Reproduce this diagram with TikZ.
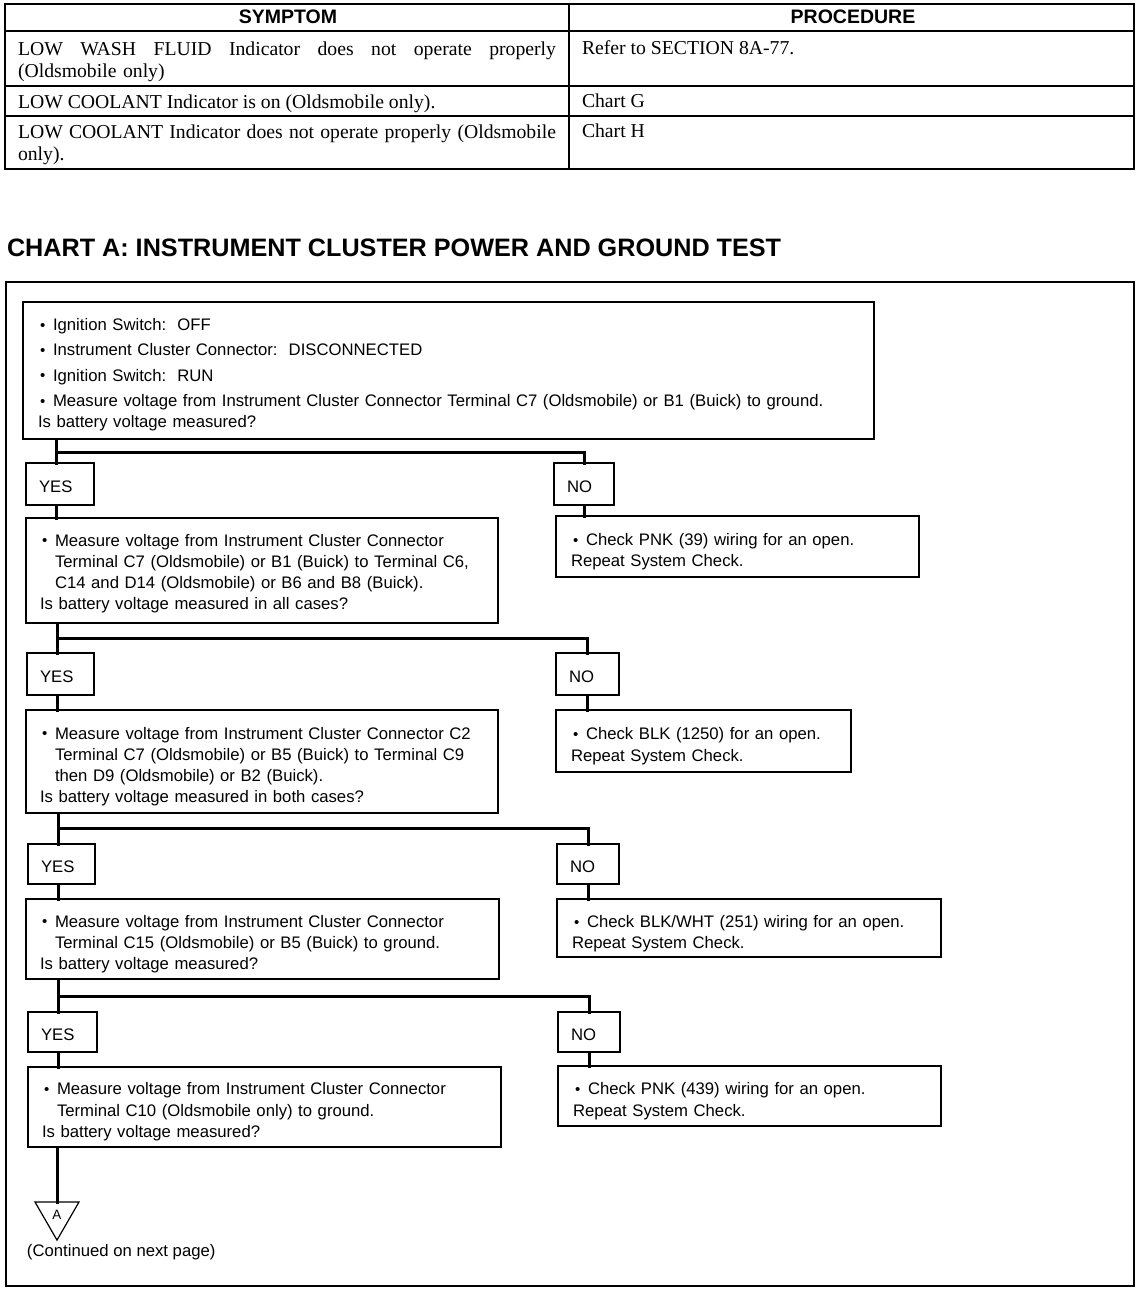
\documentclass[tikz,border=0pt]{standalone}
\usepackage{fontspec}
\setmainfont{Liberation Serif}
\setsansfont{Liberation Sans}
\usetikzlibrary{shapes.geometric}
\newcommand\flowfont{\sffamily\fontsize{16.7}{21.3}\selectfont}
\newcommand\tabfont{\rmfamily\fontsize{19.7}{22}\selectfont}
\newcommand\bul{\hspace*{2pt}\makebox[13pt][l]{\raisebox{0.3pt}{\fontsize{15}{15}\selectfont •}}}
\newcommand\cont{\hspace*{15pt}}
\newcommand\fs[1]{\rule{0pt}{\dimexpr12.5pt+#1pt\relax}}
\newcommand\just[1]{\makebox[538pt][s]{\spaceskip=0pt\xspaceskip=0pt\relax #1}}
\begin{document}
\begin{tikzpicture}[x=1pt,y=-1pt,
  every node/.style={inner sep=0pt, outer sep=0pt},
  grid/.style={line width=1.4pt},
  box/.style={draw, line width=1.2pt, anchor=north west, align=left,
    font=\flowfont, inner xsep=14pt, inner ysep=0pt},
  ans/.style={draw, line width=1.2pt, anchor=north west, align=left,
    font=\flowfont, inner xsep=13pt, inner ysep=0pt},
  conn/.style={line width=3pt, line cap=rect},
  hdr/.style={font=\sffamily\bfseries\fontsize{19.5}{22}\selectfont},
  cell/.style={font=\tabfont, align=left, anchor=west}]
\useasboundingbox[fill=white] (0,0) rectangle (1136,1296);

% ---------- table ----------
\draw[grid] (5,4) rectangle (1134,169);
\draw[grid] (5,31) -- (1134,31);
\draw[grid] (5,86) -- (1134,86);
\draw[grid] (5,116) -- (1134,116);
\draw[grid] (569,4) -- (569,169);
\node[hdr] (hs) at (288,17) {SYMPTOM};
\node[hdr] (hp) at (853,17) {PROCEDURE};
\node[cell, text width=540pt] (r1) at (18,62) {\just{LOW WASH FLUID Indicator does not operate properly}\\(Oldsmobile only)};
\node[cell] (r2) at (18,104) {LOW COOLANT Indicator is on (Oldsmobile only).};
\node[cell, text width=540pt] (r3) at (18,145) {\just{LOW COOLANT Indicator does not operate properly (Oldsmobile}\\only).};
\node[cell] (p1) at (582,48) {Refer to SECTION 8A-77.};
\node[cell] (p2) at (582,101) {Chart G};
\node[cell] (p3) at (582,131) {Chart H};

% ---------- title ----------
\node[anchor=west, font=\sffamily\bfseries\fontsize{25.2}{28}\selectfont] (title) at (7,248) {CHART A: INSTRUMENT CLUSTER POWER AND GROUND TEST};

% ---------- frame ----------
\draw[line width=1.4pt] (6,282) rectangle (1134,1286);

% ---------- boxes ----------
\node[box, inner xsep=15pt, minimum width=851pt, text width=821pt, minimum height=137pt] (b1) at (23,302)
 {\fs{8}\bul Ignition Switch:\ \ OFF\\[4pt]
  \bul Instrument Cluster Connector:\ \ DISCONNECTED\\[4pt]
  \bul Ignition Switch:\ \ RUN\\[4pt]
  \bul Measure voltage from Instrument Cluster Connector Terminal C7 (Oldsmobile) or B1 (Buick) to ground.\\
  Is battery voltage measured?};

\node[ans, minimum width=68pt, text width=42pt, minimum height=42pt] (y1) at (26,463) {\fs{4}YES};
\node[ans, minimum width=60pt, text width=34pt, minimum height=42pt] (n1) at (554,463) {\fs{4}NO};

\node[box, minimum width=472pt, text width=444pt, minimum height=105pt] (b2) at (26,518)
 {\fs{6}\bul Measure voltage from Instrument Cluster Connector\\
  \cont Terminal C7 (Oldsmobile) or B1 (Buick) to Terminal C6,\\
  \cont C14 and D14 (Oldsmobile) or B6 and B8 (Buick).\\
  Is battery voltage measured in all cases?};
\node[box, inner xsep=15pt, minimum width=363pt, text width=333pt, minimum height=61pt] (c1) at (556,516)
 {\fs{10}\bul Check PNK (39) wiring for an open.\\ Repeat System Check.};

\node[ans, minimum width=67pt, text width=41pt, minimum height=42pt] (y2) at (27,653) {\fs{4}YES};
\node[ans, minimum width=63pt, text width=37pt, minimum height=42pt] (n2) at (556,653) {\fs{4}NO};

\node[box, minimum width=472pt, text width=444pt, minimum height=103pt] (b3) at (26,710)
 {\fs{10}\bul Measure voltage from Instrument Cluster Connector C2\\
  \cont Terminal C7 (Oldsmobile) or B5 (Buick) to Terminal C9\\
  \cont then D9 (Oldsmobile) or B2 (Buick).\\
  Is battery voltage measured in both cases?};
\node[box, inner xsep=15pt, minimum width=295pt, text width=265pt, minimum height=62pt] (c2) at (556,710)
 {\fs{10}\bul Check BLK (1250) for an open.\\ Repeat System Check.};

\node[ans, minimum width=67pt, text width=41pt, minimum height=40pt] (y3) at (28,844) {\fs{4}YES};
\node[ans, minimum width=62pt, text width=36pt, minimum height=40pt] (n3) at (557,844) {\fs{4}NO};

\node[box, minimum width=473pt, text width=445pt, minimum height=80pt] (b4) at (26,899)
 {\fs{10}\bul Measure voltage from Instrument Cluster Connector\\
  \cont Terminal C15 (Oldsmobile) or B5 (Buick) to ground.\\
  Is battery voltage measured?};
\node[box, inner xsep=15pt, minimum width=384pt, text width=354pt, minimum height=58pt] (c3) at (557,899)
 {\fs{11}\bul Check BLK/WHT (251) wiring for an open.\\ Repeat System Check.};

\node[ans, minimum width=69pt, text width=43pt, minimum height=40pt] (y4) at (28,1012) {\fs{4}YES};
\node[ans, minimum width=62pt, text width=36pt, minimum height=40pt] (n4) at (558,1012) {\fs{4}NO};

\node[box, minimum width=473pt, text width=445pt, minimum height=80pt] (b5) at (28,1067)
 {\fs{9}\bul Measure voltage from Instrument Cluster Connector\\
  \cont Terminal C10 (Oldsmobile only) to ground.\\
  Is battery voltage measured?};
\node[box, inner xsep=15pt, minimum width=383pt, text width=353pt, minimum height=60pt] (c4) at (558,1066)
 {\fs{10}\bul Check PNK (439) wiring for an open.\\ Repeat System Check.};

\node[draw, line width=1.2pt, regular polygon, regular polygon sides=3, shape border rotate=180,
  minimum size=50.8pt, font=\sffamily\fontsize{13.5}{13.5}\selectfont] (tri) at (57,1214.7) {A};
\node[anchor=west, font=\flowfont] (cont) at (27,1252) {(Continued on next page)};

% ---------- connectors ----------
\coordinate (j1) at (0,452);
\coordinate (j2) at (0,638);
\coordinate (j3) at (0,828);
\coordinate (j4) at (0,996);
\coordinate (t1) at ([xshift=30pt]y1.north west);
\coordinate (t2) at ([xshift=30pt]y2.north west);
\coordinate (t3) at ([xshift=30pt]y3.north west);
\coordinate (t4) at ([xshift=30pt]y4.north west);

\draw[conn] (t1 |- b1.south) -- (t1);
\draw[conn] (t1 |- j1) -- (n1.north |- j1) -- (n1.north);
\draw[conn] (t1 |- y1.south) -- (t1 |- b2.north);
\draw[conn] (n1.south) -- (n1.south |- c1.north);

\draw[conn] (t2 |- b2.south) -- (t2);
\draw[conn] (t2 |- j2) -- (n2.north |- j2) -- (n2.north);
\draw[conn] (t2 |- y2.south) -- (t2 |- b3.north);
\draw[conn] (n2.south) -- (n2.south |- c2.north);

\draw[conn] (t3 |- b3.south) -- (t3);
\draw[conn] (t3 |- j3) -- (n3.north |- j3) -- (n3.north);
\draw[conn] (t3 |- y3.south) -- (t3 |- b4.north);
\draw[conn] (n3.south) -- (n3.south |- c3.north);

\draw[conn] (t4 |- b4.south) -- (t4);
\draw[conn] (t4 |- j4) -- (n4.north |- j4) -- (n4.north);
\draw[conn] (t4 |- y4.south) -- (t4 |- b5.north);
\draw[conn] (n4.south) -- (n4.south |- c4.north);

\draw[conn] (tri.north |- b5.south) -- (tri.north);
\end{tikzpicture}
\end{document}
